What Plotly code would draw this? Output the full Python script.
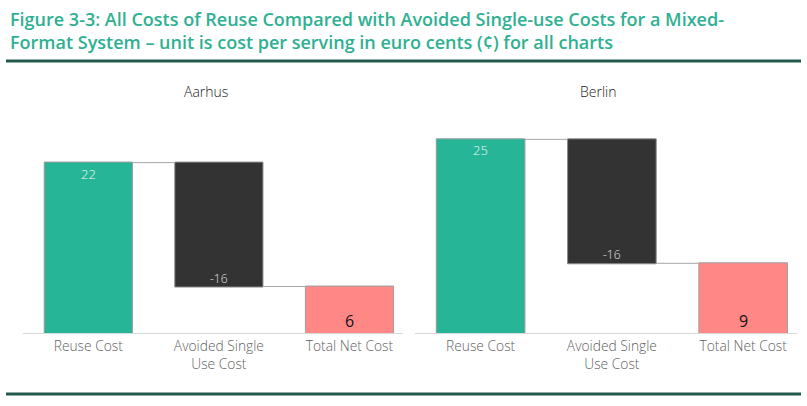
import plotly.graph_objects as go

categories = ["Reuse Cost", "Avoided Single<br>Use Cost", "Total Net Cost"]
cities = ["Aarhus", "Berlin"]
reuse_cost = [22, 25]
avoided_cost = [-16, -16]
net_cost = [6, 9]
title_text = ("Figure 3-3: All Costs of Reuse Compared with Avoided Single-use Costs for a Mixed-<br>"
              "Format System – unit is cost per serving in euro cents (¢) for all charts")

TEAL = "#27b597"
DARK = "#333333"
SALMON = "#ff8886"
GREEN_TXT = "#2eb092"
RULE = "#215a4d"
AXIS_TXT = "#5f5f5f"
FONT = "Open Sans"

fig = go.Figure()
x_domains = [[0.0285, 0.4994], [0.5142, 0.9876]]
title_x = [206, 598]

for i, city in enumerate(cities):
    xa = "x" if i == 0 else "x2"
    ya = "y" if i == 0 else "y2"
    fig.add_trace(go.Waterfall(
        x=categories,
        y=[reuse_cost[i], avoided_cost[i], net_cost[i]],
        measure=["relative", "relative", "total"],
        width=0.675,
        increasing=dict(marker=dict(color=TEAL, line=dict(color="#9a9a9a", width=1))),
        decreasing=dict(marker=dict(color=DARK, line=dict(color="#8a8a8a", width=1))),
        totals=dict(marker=dict(color=SALMON, line=dict(color="#a0a0a0", width=1))),
        connector=dict(mode="between", line=dict(color="#a6a6a6", width=1)),
        textinfo="none",
        hoverinfo="skip",
        showlegend=False,
        xaxis=xa, yaxis=ya,
    ))
    # value labels
    fig.add_annotation(x=categories[0], y=reuse_cost[i], xref=xa, yref=ya,
                       text=str(reuse_cost[i]), showarrow=False, yanchor="top", yshift=0,
                       font=dict(family=FONT, size=13, color="#e9f7f3", weight=300))
    fig.add_annotation(x=categories[1], y=reuse_cost[i] + avoided_cost[i], xref=xa, yref=ya,
                       text=str(avoided_cost[i]), showarrow=False, yanchor="bottom", yshift=-2,
                       font=dict(family=FONT, size=12, color="#e0e0e0", weight=300))
    fig.add_annotation(x=categories[2], y=0, xref=xa, yref=ya,
                       text=str(net_cost[i]), showarrow=False, yanchor="bottom", yshift=-1,
                       font=dict(family="Open Sans", size=16, color="#111111"))
    fig.add_annotation(x=title_x[i] / 807, y=(406 - 91) / 406, xref="paper", yref="paper",
                       text=city, showarrow=False, xanchor="center", yanchor="middle",
                       font=dict(family=FONT, size=14, color="#222222", weight=300))

axis_common = dict(showgrid=False, zeroline=False, showline=True, linecolor="#d9d9d9",
                   linewidth=1, ticks="", range=[-0.5, 2.41],
                   tickfont=dict(family=FONT, size=13.8, color=AXIS_TXT, weight=300))
yaxis_common = dict(showgrid=False, zeroline=False, showline=False, showticklabels=False,
                    range=[0, 28], domain=[0.1798, 0.714])

fig.update_layout(
    width=807, height=406,
    margin=dict(l=0, r=0, t=0, b=0),
    paper_bgcolor="white", plot_bgcolor="white",
    xaxis=dict(domain=x_domains[0], anchor="y", **axis_common),
    xaxis2=dict(domain=x_domains[1], anchor="y2", **axis_common),
    yaxis=dict(anchor="x", **yaxis_common),
    yaxis2=dict(anchor="x2", **yaxis_common),
)

fig.add_annotation(x=8 / 807, y=(406 - 31) / 406, xref="paper", yref="paper",
                   text=title_text, showarrow=False, xanchor="left",
                   yanchor="middle", align="left",
                   font=dict(family="Open Sans", size=18, color=GREEN_TXT, weight=600))

for yy in [61, 394]:
    fig.add_shape(type="line", xref="paper", yref="paper",
                  x0=6 / 807, x1=801 / 807, y0=(406 - yy) / 406, y1=(406 - yy) / 406,
                  line=dict(color=RULE, width=3))

fig.write_html("out.html")
